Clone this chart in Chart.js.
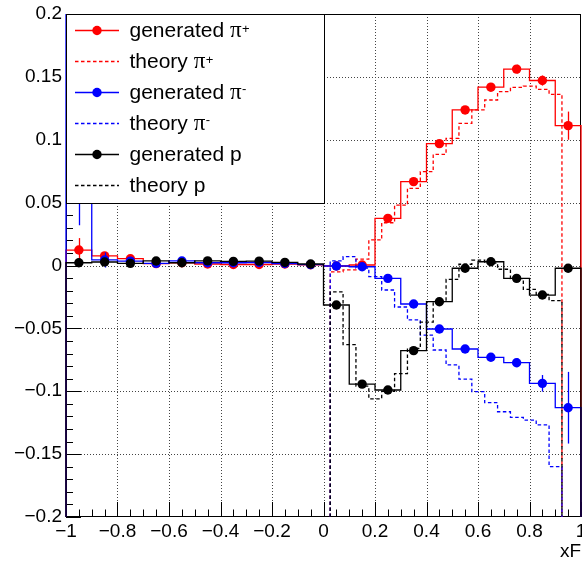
<!DOCTYPE html>
<html>
<head>
<meta charset="utf-8">
<script src="https://cdn.jsdelivr.net/npm/chart.js@4/dist/chart.umd.min.js"></script>
<style>
  html, body { margin: 0; padding: 0; background: #fff; }
  canvas { display: block; }
</style>
</head>
<body>
<canvas id="c" width="582" height="563"></canvas>
<script>
// ---- xF binning -------------------------------------------------------
// generated histograms: 20 bins of width 0.1 over [-1, 1] (bin centres)
const genBins = [-0.95, -0.85, -0.75, -0.65, -0.55, -0.45, -0.35, -0.25, -0.15, -0.05,
                  0.05,  0.15,  0.25,  0.35,  0.45,  0.55,  0.65,  0.75,  0.85,  0.95];
const genBinWidth = 0.1;
// theory histograms: 18 bins of width 0.05 (bin centres)
const theoryBins = [0.051, 0.101, 0.151, 0.201, 0.251, 0.301, 0.351, 0.401, 0.451,
                    0.501, 0.551, 0.601, 0.651, 0.701, 0.751, 0.801, 0.851, 0.901];
const theoryBinWidth = 0.05;

// ---- generated asymmetries (value, error) -----------------------------
const genPiPlus    = [0.0123, 0.0076, 0.0054, 0.0015, 0.0022, 0.0012, 0.0008, 0.0008, 0.0012, 0.0006,
                      -0.0004, 0.0004, 0.0375, 0.0667, 0.0969, 0.1237, 0.1418, 0.1562, 0.1471, 0.1112];
const genPiPlusErr = [0.0095, 0.003, 0.002, 0.0015, 0.0015, 0.0015, 0.0015, 0.0015, 0.0015, 0.0015,
                      0.0015, 0.0015, 0.002, 0.0022, 0.0025, 0.003, 0.003, 0.0035, 0.004, 0.0112];

const genPiMinus    = [0.27, 0.0044, 0.0035, 0.0017, 0.0036, 0.0022, 0.0022, 0.0024, 0.0016, 0.0007,
                       -0.0004, -0.001, -0.0102, -0.0306, -0.0505, -0.0664, -0.073, -0.0773, -0.0937, -0.1131];
const genPiMinusErr = [0.238, 0.006, 0.002, 0.0015, 0.0015, 0.0015, 0.0015, 0.0015, 0.0015, 0.0015,
                       0.0015, 0.0015, 0.002, 0.0022, 0.0025, 0.003, 0.003, 0.0035, 0.0066, 0.0285];

const genProton    = [0.0022, 0.0028, 0.0017, 0.0036, 0.0022, 0.0037, 0.0033, 0.0035, 0.0025, 0.0012,
                      -0.0314, -0.0943, -0.099, -0.0677, -0.0288, -0.0022, 0.003, -0.0102, -0.0235, -0.0022];
const genProtonErr = [0.0012, 0.0012, 0.0012, 0.0012, 0.0012, 0.0012, 0.0012, 0.0012, 0.0012, 0.0012,
                      0.0015, 0.0015, 0.0015, 0.0015, 0.0015, 0.0015, 0.0015, 0.0015, 0.002, 0.003];

// ---- theory curves ----------------------------------------------------
const theoryPiPlus  = [-0.005, -0.0035, 0.005, 0.0203, 0.034, 0.048, 0.0614, 0.0746, 0.0884,
                       0.1011, 0.1131, 0.1237, 0.1316, 0.1382, 0.1417, 0.1427, 0.1401, 0.1361];
const theoryPiMinus = [0.0036, 0.007, -0.002, -0.0089, -0.0195, -0.033, -0.0433, -0.0553, -0.0672,
                       -0.0791, -0.0903, -0.1003, -0.1091, -0.1163, -0.1208, -0.1229, -0.1268, -0.16];
const theoryProton  = [-0.021, -0.063, -0.096, -0.106, -0.100, -0.086, -0.066, -0.045, -0.0288,
                       -0.011, 0.001, 0.0042, 0.002, -0.003, -0.0105, -0.019, -0.023, -0.028];

// ---- legend ------------------------------------------------------------
const legendText   = ['generated ', 'theory ', 'generated ', 'theory ', 'generated ', 'theory '];
const legendSymbol = ['\u03c0', '\u03c0', '\u03c0', '\u03c0', 'p', 'p'];
const legendSup    = ['+', '+', '-', '-', '', ''];
const legendKind   = ['marker', 'dashed', 'marker', 'dashed', 'marker', 'dashed'];
const seriesColors = ['#ff0000', '#ff0000', '#0000ff', '#0000ff', '#000000', '#000000'];

const axisTitleX = 'xF';
const xRange = [-1, 1];
const yRange = [-0.2, 0.2];

const FONT = '"Liberation Sans", Arial, Helvetica, sans-serif';
const DASH = [3.5, 2.5];
const MARKER_R = 4.7;

// histogram outline: starts and ends on the frame bottom like a ROOT "HIST" contour
function histOutline(centers, values, width) {
  const h = width / 2, n = centers.length, base = yRange[0];
  const pts = [{x: centers[0] - h, y: base}];
  for (let i = 0; i < n; i++) pts.push({x: centers[i] - h, y: values[i]});
  pts.push({x: centers[n - 1] + h, y: values[n - 1]});
  pts.push({x: centers[n - 1] + h, y: base});
  return pts;
}
function markerPoints(centers, values) {
  return centers.map((c, i) => ({x: c, y: values[i]}));
}

const CLIP = {left: 1, top: 0, right: 1, bottom: 1};

function histDataset(centers, values, width, color, dashed, order) {
  return {
    type: 'line', data: histOutline(centers, values, width), stepped: true,
    borderColor: color, borderWidth: 1.3, borderDash: dashed ? DASH : [],
    pointRadius: 0, fill: false, clip: CLIP, order: order
  };
}
function markerDataset(centers, values, errors, color, order) {
  return {
    type: 'scatter', data: markerPoints(centers, values), errors: errors,
    showLine: false, pointRadius: MARKER_R, pointBackgroundColor: color,
    pointBorderColor: color, pointBorderWidth: 0, clip: CLIP, order: order
  };
}

const datasets = [
  histDataset(genBins, genPiPlus, genBinWidth, seriesColors[0], false, 9),
  markerDataset(genBins, genPiPlus, genPiPlusErr, seriesColors[0], 8),
  histDataset(theoryBins, theoryPiPlus, theoryBinWidth, seriesColors[1], true, 7),
  histDataset(genBins, genPiMinus, genBinWidth, seriesColors[2], false, 6),
  markerDataset(genBins, genPiMinus, genPiMinusErr, seriesColors[2], 5),
  histDataset(theoryBins, theoryPiMinus, theoryBinWidth, seriesColors[3], true, 4),
  histDataset(genBins, genProton, genBinWidth, seriesColors[4], false, 3),
  markerDataset(genBins, genProton, genProtonErr, seriesColors[4], 2),
  histDataset(theoryBins, theoryProton, theoryBinWidth, seriesColors[5], true, 1)
];

function fmt(v, digits) {
  const f = Math.pow(10, digits);
  const r = Math.round(v * f) / f;
  if (r === 0) return '0';
  return (r < 0 ? '\u2212' : '') + String(Math.abs(r));
}

// dotted grid, inner tick marks and the frame
const framePlugin = {
  id: 'rootFrame',
  beforeDatasetsDraw(chart) {
    const {ctx, chartArea: a, scales: {x, y}} = chart;
    ctx.save();
    ctx.strokeStyle = '#444';
    ctx.lineWidth = 1;
    ctx.setLineDash([1, 2]);
    x.ticks.forEach(t => {
      if (t.value <= xRange[0] || t.value >= xRange[1]) return;
      const px = Math.round(x.getPixelForValue(t.value)) + 0.5;
      ctx.beginPath(); ctx.moveTo(px, a.top); ctx.lineTo(px, a.bottom); ctx.stroke();
    });
    y.ticks.forEach(t => {
      if (t.value <= yRange[0] + 1e-9 || t.value >= yRange[1] - 1e-9) return;
      const py = Math.round(y.getPixelForValue(t.value)) + 0.5;
      ctx.beginPath(); ctx.moveTo(a.left, py); ctx.lineTo(a.right, py); ctx.stroke();
    });
    ctx.setLineDash([]);
    ctx.strokeStyle = '#000';
    // x tick marks: major every 0.2, minor every 0.05
    for (let k = 0; k <= 40; k++) {
      const v = xRange[0] + k * 0.05;
      const major = k % 4 === 0;
      const px = Math.round(x.getPixelForValue(v)) + 0.5;
      ctx.beginPath(); ctx.moveTo(px, a.bottom); ctx.lineTo(px, a.bottom - (major ? 15 : 7.5)); ctx.stroke();
    }
    // y tick marks: major every 0.05, minor every 0.01
    for (let k = 0; k <= 40; k++) {
      const v = yRange[0] + k * 0.01;
      const major = k % 5 === 0;
      const py = Math.round(y.getPixelForValue(v)) + 0.5;
      ctx.beginPath(); ctx.moveTo(a.left, py); ctx.lineTo(a.left + (major ? 15 : 7), py); ctx.stroke();
    }
    ctx.strokeRect(a.left + 0.5, a.top + 0.5, a.right - a.left - 1, a.bottom - a.top - 1);
    ctx.restore();
  }
};

// vertical error bars on the marker datasets
const errorBarPlugin = {
  id: 'errorBars',
  afterDatasetDraw(chart, args) {
    const ds = chart.data.datasets[args.index];
    if (!ds.errors) return;
    const {ctx, chartArea: a, scales: {x, y}} = chart;
    ctx.save();
    ctx.beginPath(); ctx.rect(a.left, a.top, a.right - a.left, a.bottom - a.top); ctx.clip();
    ctx.strokeStyle = ds.pointBackgroundColor;
    ctx.lineWidth = 1.3;
    ds.data.forEach((p, i) => {
      const e = ds.errors[i];
      const px = Math.round(x.getPixelForValue(p.x)) + 0.5;
      ctx.beginPath();
      ctx.moveTo(px, y.getPixelForValue(p.y + e));
      ctx.lineTo(px, y.getPixelForValue(p.y - e));
      ctx.stroke();
    });
    ctx.restore();
  }
};

// boxed legend in the upper-left corner of the frame
const legendPlugin = {
  id: 'boxLegend',
  afterDraw(chart) {
    const {ctx, chartArea: a} = chart;
    const bx = a.left, by = a.top, bw = 258, bh = 189;
    ctx.save();
    ctx.fillStyle = '#fff';
    ctx.fillRect(bx, by, bw, bh);
    ctx.strokeStyle = '#000';
    ctx.lineWidth = 1;
    ctx.strokeRect(bx + 0.5, by + 0.5, bw, bh);
    legendText.forEach((txt, i) => {
      const cy = by + 16 + 31 * i;
      const color = seriesColors[i];
      ctx.strokeStyle = color;
      ctx.lineWidth = 1.3;
      ctx.setLineDash(legendKind[i] === 'dashed' ? DASH : []);
      ctx.beginPath(); ctx.moveTo(bx + 9, cy + 0.5); ctx.lineTo(bx + 53, cy + 0.5); ctx.stroke();
      ctx.setLineDash([]);
      if (legendKind[i] === 'marker') {
        ctx.fillStyle = color;
        ctx.beginPath(); ctx.arc(bx + 31, cy + 0.5, MARKER_R, 0, Math.PI * 2); ctx.fill();
      }
      const base = cy + 7;
      let tx = bx + 63.5;
      ctx.fillStyle = '#000';
      ctx.textBaseline = 'alphabetic';
      ctx.textAlign = 'left';
      ctx.font = '21px ' + FONT;
      ctx.fillText(txt, tx, base);
      tx += ctx.measureText(txt).width;
      if (legendSymbol[i] === '\u03c0') ctx.font = '23px "Liberation Serif", "Times New Roman", serif';
      ctx.fillText(legendSymbol[i], tx, base);
      tx += ctx.measureText(legendSymbol[i]).width;
      if (legendSup[i]) {
        ctx.font = '13px ' + FONT;
        ctx.fillText(legendSup[i], tx + 0.5, base - (legendSup[i] === '+' ? 4 : 6));
      }
    });
    ctx.restore();
  }
};

new Chart(document.getElementById('c'), {
  data: {datasets: datasets},
  options: {
    responsive: false,
    animation: false,
    events: [],
    devicePixelRatio: 1,
    layout: {autoPadding: false, padding: {top: 14, right: 1, left: 0, bottom: 0}},
    plugins: {legend: {display: false}, tooltip: {enabled: false}},
    scales: {
      x: {
        type: 'linear', position: 'bottom', min: xRange[0], max: xRange[1],
        grid: {display: false, drawTicks: false},
        border: {display: false},
        ticks: {
          stepSize: 0.2, autoSkip: false, maxRotation: 0, padding: 5, color: '#000',
          font: {family: FONT, size: 19, lineHeight: 1},
          callback: v => fmt(v, 1)
        },
        title: {display: true, text: axisTitleX, align: 'end', color: '#000',
                font: {family: FONT, size: 19, lineHeight: 1}, padding: {top: 0, bottom: 2}},
        afterFit: s => { s.height = 46; s.paddingLeft = 0; s.paddingRight = 0; }
      },
      y: {
        type: 'linear', position: 'left', min: yRange[0], max: yRange[1],
        grid: {display: false, drawTicks: false},
        border: {display: false},
        ticks: {
          stepSize: 0.05, autoSkip: false, padding: 4, color: '#000',
          font: {family: FONT, size: 19, lineHeight: 1},
          callback: v => fmt(v, 2)
        },
        afterFit: s => { s.width = 66; s.paddingTop = 0; s.paddingBottom = 0; }
      }
    }
  },
  plugins: [framePlugin, errorBarPlugin, legendPlugin]
});
</script>
</body>
</html>
